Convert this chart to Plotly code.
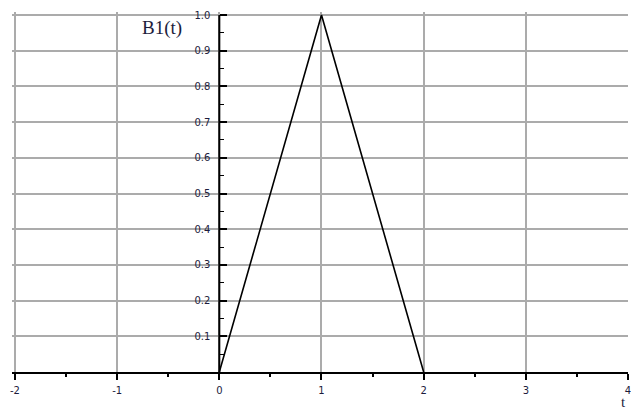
import plotly.graph_objects as go

# B-spline basis of degree 1: hat function on [0, 2]
t_vals = [0, 1, 2]
b1_vals = [0, 1, 0]

x_ticks = [-2, -1, 0, 1, 2, 3, 4]
x_tick_text = ["-2", "-1", "0", "1", "2", "3", "4"]
x_minor = [-1.5, -0.5, 0.5, 1.5, 2.5, 3.5]
y_ticks = [0.1, 0.2, 0.3, 0.4, 0.5, 0.6, 0.7, 0.8, 0.9, 1.0]
y_tick_text = ["0.1", "0.2", "0.3", "0.4", "0.5", "0.6", "0.7", "0.8", "0.9", "1.0"]
y_minor = [0.05, 0.15, 0.25, 0.35, 0.45, 0.55, 0.65, 0.75, 0.85, 0.95]

W, H = 631, 412
PAD = 3  # a few pixels so the edge grid lines at t=-2 and B=1 are kept
ML, MR, MT, MB = 15 - PAD, 0, 15 - PAD, 40
px_per_x = 616 / 6.0
px_per_y = 357.0
x_range = [-2 - PAD / px_per_x, 4]
y_range = [0, 1 + PAD / px_per_y]
plot_w = W - ML - MR
plot_h = H - MT - MB
# paper position of the vertical axis (t = 0)
y_axis_pos = (0 - x_range[0]) / (x_range[1] - x_range[0])

tick_font = dict(family="DejaVu Sans", size=10, color="#1c1c3c")
grid_col = "#ababab"

fig = go.Figure()
fig.add_trace(go.Scatter(
    x=t_vals, y=b1_vals, mode="lines",
    line=dict(color="black", width=1.6),
    hoverinfo="skip", showlegend=False,
))

fig.update_layout(
    width=W, height=H,
    margin=dict(l=ML, r=MR, t=MT, b=MB),
    paper_bgcolor="white", plot_bgcolor="white",
    xaxis=dict(
        range=x_range, tickvals=x_ticks, ticktext=x_tick_text,
        showgrid=True, gridcolor=grid_col, gridwidth=2,
        zeroline=False, showline=True, linecolor="black", linewidth=2,
        ticks="outside", ticklen=6, tickwidth=2, tickcolor="black",
        minor=dict(tickvals=x_minor, ticks="outside", ticklen=3,
                   tickwidth=2, tickcolor="black", showgrid=False),
        tickfont=tick_font, ticklabelstandoff=2, ticklabeloverflow="allow",
    ),
    yaxis=dict(
        range=y_range, tickvals=y_ticks, ticktext=y_tick_text,
        anchor="free", position=y_axis_pos,
        showgrid=True, gridcolor=grid_col, gridwidth=2,
        zeroline=False, showline=False,
        ticks="inside", ticklen=7, tickwidth=2, tickcolor="black",
        minor=dict(tickvals=y_minor, ticks="inside", ticklen=4,
                   tickwidth=1, tickcolor="black", showgrid=False),
        tickfont=tick_font, ticklabelstandoff=9, ticklabeloverflow="allow",
    ),
    # vertical axis line from B=0 up to B=1
    shapes=[dict(type="line", xref="x", yref="y", x0=0, x1=0, y0=0, y1=1,
                 line=dict(color="black", width=2), layer="above")],
    annotations=[
        dict(text="B1(t)", xref="paper", yref="paper",
             x=y_axis_pos - 35 / plot_w, y=1 - (28 - MT) / plot_h,
             xanchor="right", yanchor="middle", showarrow=False,
             font=dict(family="Liberation Serif", size=19, color="#1c1c3c")),
        dict(text="t", xref="paper", yref="paper",
             x=1.0, y=-30 / plot_h, xanchor="right", yanchor="middle",
             showarrow=False,
             font=dict(family="Liberation Serif", size=15, color="#1c1c3c")),
    ],
)

fig.write_html("out.html")
